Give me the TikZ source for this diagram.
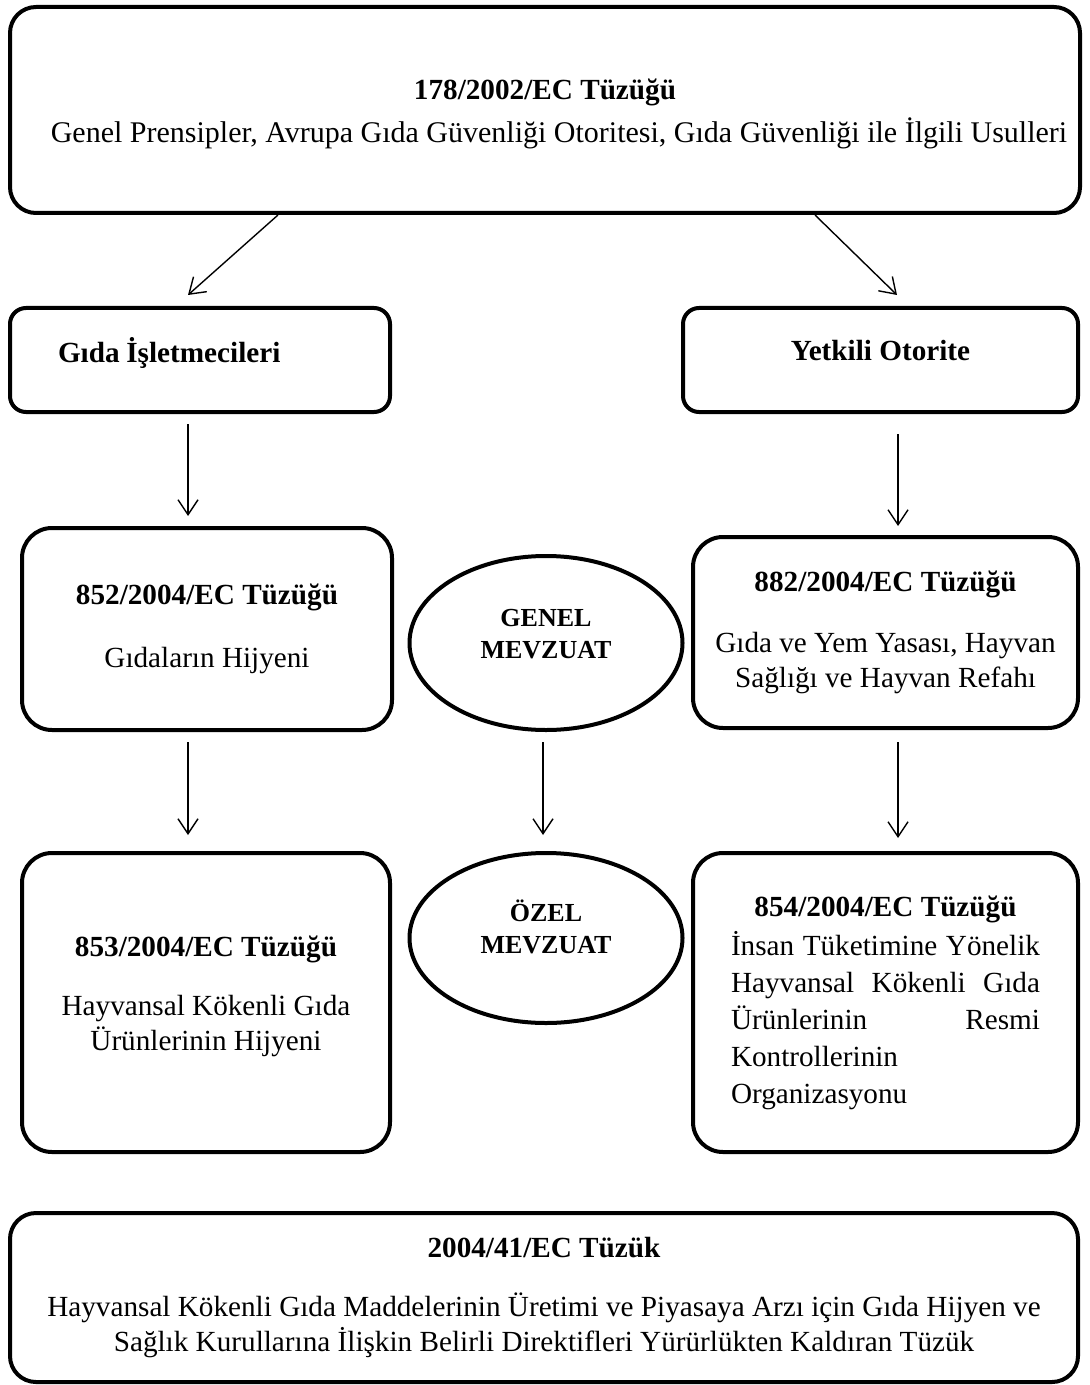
\documentclass[tikz,border=0pt]{standalone}
\usepackage{fontspec}
\setmainfont{Liberation Serif}
\usetikzlibrary{arrows.meta, positioning, shapes.geometric, calc}

% justified line of fixed width
\newlength{\satirgen}
\setlength{\satirgen}{154.5pt}
\newcommand{\satir}[2][s]{\makebox[\satirgen][#1]{#2}}

\tikzset{
    kutu/.style={ % rounded regulation boxes
    rectangle, draw, line width=2pt,
    rounded corners=13pt,
    align=center, inner sep=0pt},
    elips/.style={ % legislation type
    ellipse, draw, line width=2pt,
    align=center, inner sep=0pt,
    font=\fontsize{13}{16}\selectfont\bfseries},
    ok/.style={ % thin arrows with open heads
    -{Straight Barb[length=7.5pt,width=10pt]},
    line width=0.7pt}}

\begin{document}
\begin{tikzpicture}[x=0.5pt, y=-0.5pt, font=\fontsize{14.6}{17.5}\selectfont]

        \useasboundingbox (0,0) rectangle (1089,1385);

        % Top regulation
        \node[kutu, minimum width=535pt, minimum height=103pt, text height=36pt] (ust) at (545,110)
            {\textbf{178/2002/EC Tüzüğü}\\[4pt] \hspace*{14pt}{\fontsize{15}{17.5}\selectfont Genel Prensipler, Avrupa Gıda Güvenliği Otoritesi, Gıda Güvenliği ile İlgili Usulleri}};

        % Second row
        \node[kutu, rounded corners=8pt, minimum width=190pt, minimum height=52pt, text width=142pt, align=left, inner xsep=24pt, text depth=10pt] (gida) at (200,360)
            {\textbf{Gıda\hspace{-1.5pt} İşletmecileri}};
        \node[kutu, rounded corners=8pt, minimum width=197.5pt, minimum height=52pt, text depth=10pt] (yetkili) at (880.5,360)
            {\textbf{Yetkili Otorite}};

        % General legislation
        \node[kutu, rounded corners=15pt, minimum width=185pt, minimum height=101pt] (k852) at (207,629)
            {\textbf{852/2004/EC Tüzüğü}\\[14pt] Gıdaların Hijyeni};
        \node[elips, minimum width=136.5pt, minimum height=87pt, text depth=9pt] (genel) at (546,643)
            {GENEL\\MEVZUAT};
        \node[kutu, rounded corners=15pt, minimum width=192.5pt, minimum height=95.5pt] (k882) at (885.5,632.5)
            {\textbf{882/2004/EC Tüzüğü}\\[13pt] Gıda ve Yem Yasası, Hayvan\\ Sağlığı ve Hayvan Refahı};

        % Special legislation
        \node[kutu, rounded corners=15pt, minimum width=184pt, minimum height=149.5pt, text depth=9.5pt] (k853) at (206,1002.5)
            {\textbf{853/2004/EC Tüzüğü}\\[12pt] Hayvansal Kökenli Gıda\\ Ürünlerinin Hijyeni};
        \node[elips, minimum width=136.5pt, minimum height=85pt, text depth=11pt] (ozel) at (546,938)
            {ÖZEL\\MEVZUAT};
        \node[kutu, rounded corners=15pt, minimum width=192.5pt, minimum height=149.5pt, font=\fontsize{14.6}{18.5}\selectfont] (k854) at (885.5,1002.5)
            {\textbf{854/2004/EC Tüzüğü}\\[1pt] \satir{İnsan Tüketimine Yönelik}\\ \satir{Hayvansal Kökenli Gıda}\\ \satir{Ürünlerinin Resmi}\\ \satir[l]{Kontrollerinin}\\ \satir[l]{Organizasyonu}};

        % Bottom regulation
        \node[kutu, minimum width=534pt, minimum height=84.5pt] (k2004) at (544,1297.5)
            {\textbf{2004/41/EC Tüzük}\\[12pt] Hayvansal Kökenli Gıda Maddelerinin Üretimi ve Piyasaya Arzı için Gıda Hijyen ve\\ Sağlık Kurullarına İlişkin Belirli Direktifleri Yürürlükten Kaldıran Tüzük};

        % Arrows
        \draw[ok] ($(ust.south west)+(270,0)$) -- ($(gida.north)+(-12,-11)$);
        \draw[ok] ($(ust.south west)+(807,0)$) -- ($(yetkili.north)+(16.5,-11)$);
        \draw[ok] ($(gida.south)+(-12,10)$) -- ($(k852.north)+(-19,-10)$);
        \draw[ok] ($(yetkili.south)+(17.5,20)$) -- ($(k882.north)+(12.5,-9)$);
        \draw[ok] ($(k852.south)+(-19,10)$) -- ($(k853.north)+(-18,-16)$);
        \draw[ok] ($(genel.south)+(-3,10)$) -- ($(ozel.north)+(-3,-16)$);
        \draw[ok] ($(k882.south)+(12.5,12)$) -- ($(k854.north)+(12.5,-13)$);

    \end{tikzpicture}
\end{document}
